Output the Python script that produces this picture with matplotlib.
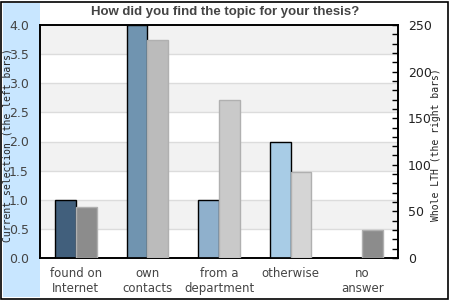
import numpy as np
import matplotlib
matplotlib.use("Agg")
import matplotlib.pyplot as plt
from matplotlib.patches import Rectangle
from matplotlib.ticker import MultipleLocator

# data
categories = ["found on\nInternet", "own\ncontacts", "from a\ndepartment", "otherwise", "no\nanswer"]
current = [1, 4, 1, 2, 0]            # left axis
whole_lth = [55, 234, 170, 92, 30]   # right axis

left_colors = ["#415f7c", "#7094b0", "#8fb0cc", "#a8cce6", "#a8cce6"]
right_colors = ["#8c8c8c", "#bbbbbb", "#c9c9c9", "#d5d5d5", "#8c8c8c"]
text_col = "#444444"

fig = plt.figure(figsize=(4.5, 3), dpi=100)
W, H = 450.0, 300.0

# light blue strip at the left and the outer frame
fig.patches.append(Rectangle((3 / W, 3 / H), 37 / W, 294 / H, transform=fig.transFigure,
                             facecolor="#c8e6ff", edgecolor="none", zorder=-5))
fig.patches.append(Rectangle((0.5 / W, 1.5 / H), 447.5 / W, 297 / H, transform=fig.transFigure,
                             facecolor="none", edgecolor="black", linewidth=1.2, zorder=5))

ax = fig.add_axes([40 / W, (300 - 258) / H, (398 - 40) / W, (258 - 25) / H])
ax.set_facecolor("white")
ax.set_ylim(0, 4)
ax.set_xlim(-0.5, 4.5)

# alternating bands and grid lines
for lo in np.arange(0.5, 4.0, 1.0):
    ax.axhspan(lo, lo + 0.5, color="#f2f2f2", zorder=0, linewidth=0)
for yv in np.arange(0.5, 4.0, 0.5):
    ax.axhline(yv, color="#dcdcdc", linewidth=1, zorder=0.5)

x = np.arange(len(categories))
w = 0.29
ax.bar(x - w / 2, current, width=w, color=left_colors, edgecolor="black", linewidth=1, zorder=3)

ax.set_yticks(np.arange(0, 4.01, 0.5))
ax.set_yticklabels(["%.1f" % v for v in np.arange(0, 4.01, 0.5)])
ax.tick_params(axis="y", length=0, pad=8, labelsize=9, labelcolor=text_col)
ax.set_xticks(x)
ax.set_xticklabels(categories, linespacing=1.15)
ax.tick_params(axis="x", length=0, pad=6.5, labelsize=8.5, labelcolor=text_col)
ax.set_ylabel("Current selection (the left bars)", family="DejaVu Sans Mono", fontsize=7,
              color="#222222")
ax.yaxis.set_label_coords(-27 / 358, 0.485)

ax2 = ax.twinx()
ax2.set_ylim(0, 250)
ax2.bar(x + w / 2, whole_lth, width=w, color=right_colors, edgecolor="#b0b0b0", linewidth=1, zorder=3)
ax2.yaxis.set_major_locator(MultipleLocator(50))
ax2.yaxis.set_minor_locator(MultipleLocator(10))
ax2.tick_params(axis="y", which="both", direction="in", length=4, width=1, color="black")
ax2.tick_params(axis="y", which="major", pad=7, labelsize=9, labelcolor="#222222")
ax2.set_ylabel("Whole LTH (the right bars)", family="DejaVu Sans Mono", fontsize=7,
               color="#222222")
ax2.yaxis.set_label_coords(1 + 33 / 358, 0.485)

for a in (ax, ax2):
    for s in a.spines.values():
        s.set_linewidth(1.2)
        s.set_color("black")

fig.text(0.5, 1 - 12 / H, "How did you find the topic for your thesis?", ha="center", va="center",
         family="Liberation Sans", weight="bold", fontsize=9.5, color=text_col)

fig.savefig("out.png", dpi=100)
